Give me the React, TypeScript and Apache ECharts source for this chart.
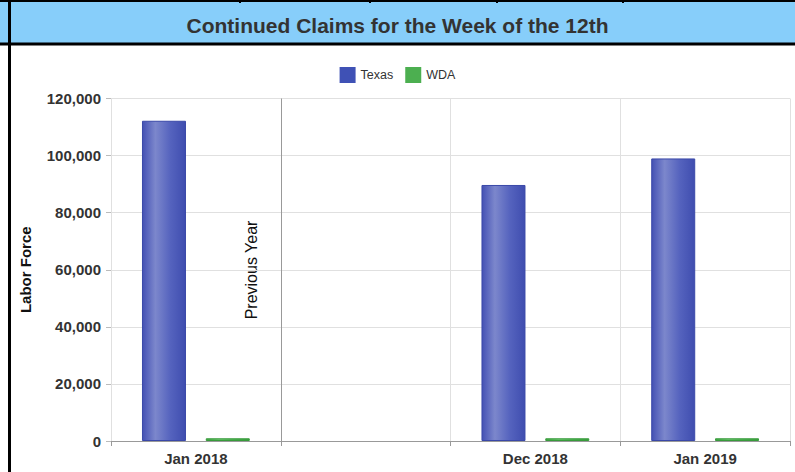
import React, { useEffect, useRef } from "react";
import * as echarts from "echarts";

const categories = ["Jan 2018", "", "Dec 2018", "Jan 2019"];
const texasValues: (number | null)[] = [112200, null, 89700, 99000];
const wdaValues: (number | null)[] = [950, null, 950, 950];
const yTicks = [0, 20000, 40000, 60000, 80000, 100000, 120000];

const FONT = "'Liberation Sans', Arial, sans-serif";

function grad(c0: string, c1: string, c2: string, c3: string) {
  return new echarts.graphic.LinearGradient(0, 0, 1, 0, [
    { offset: 0, color: c0 },
    { offset: 0.3, color: c1 },
    { offset: 0.65, color: c2 },
    { offset: 1, color: c3 },
  ]);
}

export default function App() {
  const ref = useRef<HTMLDivElement>(null);
  useEffect(() => {
    if (!ref.current) return;
    const chart = echarts.init(ref.current, undefined, { renderer: "svg" });
    chart.setOption({
      animation: false,
      textStyle: { fontFamily: FONT },
      title: {
        text: "Continued Claims for the Week of the 12th",
        left: "center",
        top: 10,
        textStyle: { fontFamily: FONT, fontSize: 21, fontWeight: "bold", color: "#333" },
      },
      legend: {
        top: 62,
        left: "center",
        itemWidth: 16,
        itemHeight: 16,
        itemGap: 12,
        icon: "rect",
        textStyle: { fontFamily: FONT, fontSize: 12.5, color: "#333" },
        data: [
          { name: "Texas", itemStyle: { color: "#3F51B5", borderWidth: 0 } },
          { name: "WDA", itemStyle: { color: "#4CAF50", borderWidth: 0 } },
        ],
      },
      grid: { left: 111, right: 5, top: 98.5, bottom: 31, containLabel: false },
      xAxis: {
        type: "category",
        data: categories,
        axisLine: { lineStyle: { color: "#999", width: 1 } },
        axisTick: { show: true, length: 5, lineStyle: { color: "#999" } },
        axisLabel: { fontFamily: FONT, fontSize: 15, fontWeight: "bold", color: "#333", margin: 10 },
        splitLine: {
          show: true,
          lineStyle: { color: ["#e0e0e0", "#999999", "#e0e0e0", "#e0e0e0", "#e0e0e0"], width: 1 },
        },
      },
      yAxis: {
        type: "value",
        min: yTicks[0],
        max: yTicks[yTicks.length - 1],
        interval: 20000,
        name: "Labor Force",
        nameLocation: "middle",
        nameGap: 78,
        nameTextStyle: { fontFamily: FONT, fontSize: 15, fontWeight: "bold", color: "#111" },
        axisLine: { show: true, lineStyle: { color: "#e0e0e0" } },
        axisTick: { show: true, length: 5, lineStyle: { color: "#bbb" } },
        axisLabel: {
          fontFamily: FONT,
          fontSize: 15,
          fontWeight: "bold",
          color: "#333",
          margin: 10,
          formatter: (v: number) => v.toLocaleString("en-US"),
        },
        splitLine: { show: true, lineStyle: { color: "#e0e0e0" } },
      },
      series: [
        {
          name: "Texas",
          type: "bar",
          data: texasValues,
          barWidth: 44,
          barGap: "45%",
          itemStyle: {
            color: grad("#4451B4", "#7C87CC", "#5563BE", "#3F4DAF"),
            borderColor: "#3A48A8",
            borderWidth: 1,
          },
        },
        {
          name: "WDA",
          type: "bar",
          data: wdaValues,
          barWidth: 44,
          itemStyle: {
            color: grad("#3FA543", "#6CC46F", "#4CAF50", "#3A9E3E"),
            borderColor: "#379B3B",
            borderWidth: 1,
          },
        },
      ],
      graphic: [
        { type: "rect", z: -1, shape: { x: 0, y: 2, width: 795, height: 41 }, style: { fill: "#87CEFA" } },
        { type: "line", shape: { x1: 0, y1: 1, x2: 795, y2: 1 }, style: { stroke: "#000", lineWidth: 2 } },
        { type: "line", shape: { x1: 0, y1: 44, x2: 795, y2: 44 }, style: { stroke: "#000", lineWidth: 3 } },
        { type: "line", shape: { x1: 9.5, y1: 0, x2: 9.5, y2: 472 }, style: { stroke: "#000", lineWidth: 3 } },
        { type: "line", shape: { x1: 240, y1: 0, x2: 240, y2: 3 }, style: { stroke: "#000", lineWidth: 2 } },
        { type: "line", shape: { x1: 370, y1: 0, x2: 370, y2: 3 }, style: { stroke: "#000", lineWidth: 2 } },
        { type: "line", shape: { x1: 497, y1: 0, x2: 497, y2: 3 }, style: { stroke: "#000", lineWidth: 2 } },
        { type: "line", shape: { x1: 623, y1: 0, x2: 623, y2: 3 }, style: { stroke: "#000", lineWidth: 2 } },
        {
          type: "text",
          x: 251,
          y: 270,
          rotation: Math.PI / 2,
          style: {
            text: "Previous Year",
            fontFamily: FONT,
            fontSize: 16,
            fill: "#111",
            align: "center",
            verticalAlign: "middle",
          },
        },
      ],
    });
    return () => chart.dispose();
  }, []);
  return (
    <div
      ref={ref}
      style={{ position: "fixed", left: 0, top: 0, width: 795, height: 472, background: "#fff" }}
    />
  );
}
